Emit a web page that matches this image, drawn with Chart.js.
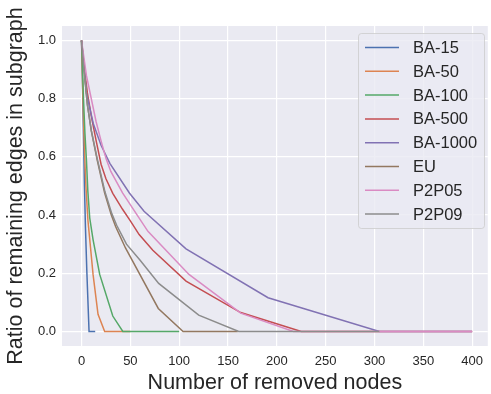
<!DOCTYPE html>
<html>
<head>
<meta charset="utf-8">
<script src="https://cdn.jsdelivr.net/npm/chart.js@4/dist/chart.umd.min.js"></script>
<style>
  body { margin: 0; background: #fff; }
  canvas { display: block; }
</style>
</head>
<body>
<canvas id="edgeChart" width="491" height="394"></canvas>
<script>
const seriesNames = ['BA-15', 'BA-50', 'BA-100', 'BA-500', 'BA-1000', 'EU', 'P2P05', 'P2P09'];
const seriesColors = ['#4C72B0', '#DD8452', '#55A868', '#C44E52', '#8172B3', '#937860', '#DA8BC3', '#8C8C8C'];

// removed nodes (x) / ratio of remaining edges (y)
const ba15X = [0, 1, 2, 3, 4, 5.5, 7.7, 14];
const ba15Y = [1, 0.85, 0.68, 0.5, 0.36, 0.2, 0, 0];
const ba50X = [0, 1, 2, 3, 4.5, 6.5, 11.8, 16.9, 23.7, 50];
const ba50Y = [1, 0.86, 0.73, 0.62, 0.5, 0.384, 0.196, 0.059, 0, 0];
const ba100X = [0, 1, 2, 3.5, 5, 6.5, 8.4, 11.8, 18.6, 32, 42.3, 100];
const ba100Y = [1, 0.9, 0.8, 0.68, 0.59, 0.48, 0.39, 0.316, 0.196, 0.053, 0, 0];
const ba500X = [0, 3, 6, 10, 15, 20, 25, 32, 42, 50, 59, 73, 107, 163, 225, 400];
const ba500Y = [1, 0.9, 0.82, 0.74, 0.655, 0.575, 0.525, 0.475, 0.42, 0.38, 0.333, 0.279, 0.173, 0.065, 0, 0];
const ba1000X = [0, 2, 5, 12, 20, 29, 49, 64, 107, 191, 305, 400];
const ba1000Y = [1, 0.93, 0.82, 0.715, 0.64, 0.578, 0.476, 0.413, 0.284, 0.116, 0, 0];
const euX = [0, 2, 4, 6, 10, 16, 23.7, 30.5, 35, 45, 78.6, 104, 160];
const euY = [1, 0.92, 0.85, 0.78, 0.69, 0.59, 0.476, 0.4, 0.36, 0.287, 0.079, 0, 0];
const p2p05X = [0, 5, 10, 15, 20, 25, 30, 42, 57, 68, 110, 163, 217, 400];
const p2p05Y = [1, 0.88, 0.8, 0.72, 0.655, 0.595, 0.55, 0.476, 0.4, 0.344, 0.196, 0.063, 0, 0];
const p2p09X = [0, 2, 4, 6, 10, 16, 24, 31, 36, 46, 60, 79, 120, 161, 305];
const p2p09Y = [1, 0.92, 0.85, 0.78, 0.69, 0.595, 0.48, 0.405, 0.365, 0.3, 0.245, 0.165, 0.056, 0, 0];

const xTicks = [0, 50, 100, 150, 200, 250, 300, 350, 400];
const yTicks = [0, 0.2, 0.4, 0.6, 0.8, 1.0];

const allX = [ba15X, ba50X, ba100X, ba500X, ba1000X, euX, p2p05X, p2p09X];
const allY = [ba15Y, ba50Y, ba100Y, ba500Y, ba1000Y, euY, p2p05Y, p2p09Y];

const FONT = "'Liberation Sans', Arial, sans-serif";
const TEXT = '#262626';

const datasets = seriesNames.map((name, i) => ({
    label: name,
    data: allX[i].map((x, j) => ({ x: x, y: allY[i][j] })),
    borderColor: seriesColors[i],
    borderWidth: 1.5,
    pointRadius: 0,
    tension: 0,
    fill: false,
    order: seriesNames.length - i // later series on top, like matplotlib
}));

const plotBg = {
    id: 'plotBg',
    beforeDraw(chart) {
        const { ctx, chartArea: a } = chart;
        ctx.save();
        ctx.fillStyle = '#EAEAF2';
        ctx.fillRect(a.left, a.top, a.right - a.left, a.bottom - a.top);
        ctx.restore();
    }
};

const innerLegend = {
    id: 'innerLegend',
    afterDraw(chart) {
        const ctx = chart.ctx;
        const x = 358.5, y = 33.5, w = 126, h = 195, r = 3;
        ctx.save();
        ctx.beginPath();
        ctx.roundRect(x, y, w, h, r);
        ctx.fillStyle = 'rgba(234,234,242,0.8)';
        ctx.fill();
        ctx.strokeStyle = 'rgba(204,204,204,0.8)';
        ctx.lineWidth = 1;
        ctx.stroke();
        ctx.font = '16.5px ' + FONT;
        ctx.textBaseline = 'middle';
        ctx.textAlign = 'left';
        chart.data.datasets.forEach((ds, i) => {
            const cy = 47.5 + i * 23.8;
            ctx.beginPath();
            ctx.moveTo(365, cy);
            ctx.lineTo(399, cy);
            ctx.strokeStyle = ds.borderColor;
            ctx.lineWidth = 1.5;
            ctx.stroke();
            ctx.fillStyle = TEXT;
            ctx.fillText(ds.label, 413, cy + 1);
        });
        ctx.restore();
    }
};

const ctx = document.getElementById('edgeChart').getContext('2d');

const edgeChart = new Chart(ctx, {
    type: 'line',
    data: { datasets: datasets },
    options: {
        responsive: false,
        animation: false,
        layout: { padding: { left: 0, top: 26, right: 0, bottom: 0 } },
        plugins: { legend: { display: false }, tooltip: { enabled: false } },
        scales: {
            x: {
                type: 'linear',
                min: -20,
                max: 416,
                afterBuildTicks: s => { s.ticks = xTicks.map(v => ({ value: v })); },
                afterFit: s => { s.height = 48; },
                grid: { color: '#ffffff', lineWidth: 1.2, drawTicks: false },
                border: { display: false },
                ticks: { padding: 8, color: TEXT, font: { family: FONT, size: 13 } },
                title: {
                    display: true,
                    text: 'Number of removed nodes',
                    color: TEXT,
                    font: { family: FONT, size: 21.5, lineHeight: 1 },
                    padding: 0
                }
            },
            y: {
                min: -0.05,
                max: 1.05,
                afterBuildTicks: s => { s.ticks = yTicks.map(v => ({ value: v })); },
                afterFit: s => { s.width = 62; },
                grid: { color: '#ffffff', lineWidth: 1.2, drawTicks: false },
                border: { display: false },
                ticks: {
                    padding: 6,
                    color: TEXT,
                    font: { family: FONT, size: 13 },
                    callback: v => v.toFixed(1)
                },
                title: {
                    display: true,
                    text: 'Ratio of remaining edges in subgraph',
                    color: TEXT,
                    font: { family: FONT, size: 21.5, lineHeight: 1 },
                    padding: { top: 5, bottom: 0 }
                }
            }
        }
    },
    plugins: [plotBg, innerLegend]
});
</script>
</body>
</html>
